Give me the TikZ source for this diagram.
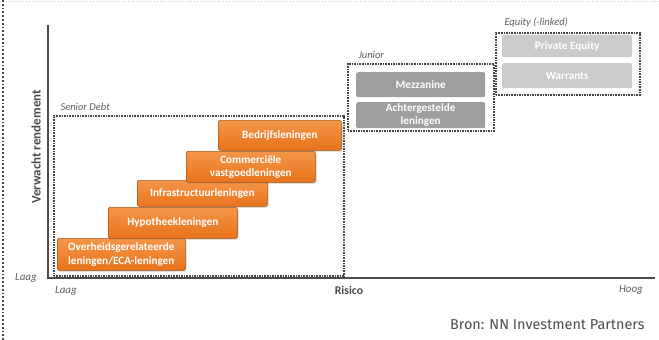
\documentclass[tikz,border=0pt]{standalone}
\usepackage{fontspec}
\setmainfont{Carlito}
\newfontfamily\bronfont{Fira Sans}
\usetikzlibrary{shadows}
\definecolor{Orange}{HTML}{E8731A}
\definecolor{LOrange}{HTML}{F4964A}
\definecolor{DOrange}{HTML}{A9540F}
\definecolor{Axis}{HTML}{4C4C4C}
\definecolor{MGray}{HTML}{9E9E9E}
\definecolor{LGray}{HTML}{CBCBCB}
\definecolor{Frame}{HTML}{444444}
\definecolor{Label}{HTML}{5E5E5E}

\tikzset{
    loan/.style={anchor=north west, inner sep=0pt, rounded corners=2pt, draw=DOrange, line width=0.6pt,
        top color=LOrange, bottom color=Orange, text=white, align=center,
        font=\fontsize{11.2}{13.5}\selectfont\bfseries,
        drop shadow={opacity=0.35, shadow xshift=1.2pt, shadow yshift=-1.2pt}},
    grey/.style={anchor=north west, inner sep=0pt, rounded corners=2pt, fill=#1, text=white, align=center,
        font=\fontsize{11.2}{13.5}\selectfont\bfseries},
    group/.style={anchor=north west, inner sep=0pt, draw=Frame, densely dotted, line width=1.6pt},
    grouplabel/.style={anchor=west, text=Label, font=\fontsize{10.5}{11}\selectfont\itshape},
    axislabel/.style={text=Label, font=\fontsize{11}{11}\selectfont\itshape}
}

\begin{document}
\begin{tikzpicture}[x=1pt, y=-1pt]

    \useasboundingbox (0,0) rectangle (659,340);

    % page border
    \draw[LGray, dotted, line width=0.9pt] (0,1) -- (659,1);
    \draw[Frame, dotted, line width=1.8pt] (3,0) -- (3,340);

    % axes
    \coordinate (origin) at (48,278);
    \coordinate (ytop) at (48,25);
    \coordinate (xend) at (655,278);
    \draw[Axis, line width=2.2pt] (ytop) -- (origin) -- (xend);

    \node[rotate=90, text=Axis, font=\fontsize{13}{13}\selectfont\bfseries] (yname) at (36,147) {Verwacht rendement};
    \node[axislabel] (ylow) at (26,278) {Laag};
    \node[axislabel] (xlow) at (66,291) {Laag};
    \node[text=Axis, font=\fontsize{11.8}{12}\selectfont\bfseries] (xname) at (349,290) {Risico};
    \node[axislabel] (xhigh) at (631,290) {Hoog};

    % groups
    \node[group, minimum width=290pt, minimum height=160pt] (senior) at (53,115) {};
    \node[grouplabel] (seniorlab) at (57,107) {Senior Debt};
    \node[group, minimum width=146pt, minimum height=67pt] (junior) at (347,63) {};
    \node[grouplabel] (juniorlab) at (355,55) {Junior};
    \node[group, minimum width=144pt, minimum height=62pt] (equity) at (495,32) {};
    \node[grouplabel] (equitylab) at (501,23) {Equity (-linked)};

    % senior debt, bottom step first
    \node[loan, minimum width=128pt, minimum height=32pt] (overh) at (57,238) {Overheidsgerelateerde\\leningen/ECA-leningen};
    \node[loan, minimum width=129pt, minimum height=31pt] (hypo) at (108,207) {Hypotheekleningen};
    \node[loan, minimum width=130pt, minimum height=26pt] (infra) at (137,180) {Infrastructuurleningen};
    \node[loan, minimum width=129pt, minimum height=31pt] (comm) at (186,151) {Commerciële\\vastgoedleningen};
    \node[loan, minimum width=123pt, minimum height=30pt] (bedr) at (218,120) {Bedrijfsleningen};

    % junior and equity
    \node[grey=MGray, minimum width=129pt, minimum height=25pt] (mezz) at (356,72) {Mezzanine};
    \node[grey=MGray, minimum width=129pt, minimum height=26pt] (achter) at (356,102) {Achtergestelde\\leningen};
    \node[grey=LGray, minimum width=130pt, minimum height=22pt] (pe) at (502,35) {Private Equity};
    \node[grey=LGray, minimum width=130pt, minimum height=25pt] (warr) at (502,63) {Warrants};

    \node[anchor=east, text=Axis, font=\bronfont\fontsize{14.4}{15}\selectfont] (bron) at (648,325) {Bron: NN Investment Partners};

\end{tikzpicture}
\end{document}
